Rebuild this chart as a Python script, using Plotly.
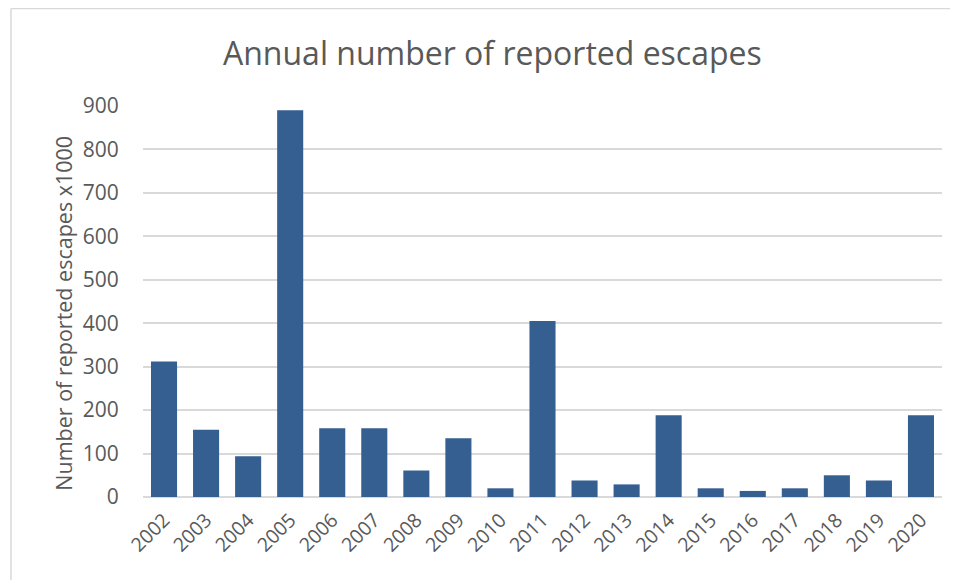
import plotly.graph_objects as go

years = [str(y) for y in range(2002, 2021)]
escapes = [312, 155, 94, 890, 158, 158, 61, 135, 20, 405, 38, 29, 188, 20, 14, 20, 50, 38, 188]
y_ticks = [0, 100, 200, 300, 400, 500, 600, 700, 800, 900]

title_text = "Annual number of reported escapes"
y_title = "Number of reported escapes x1000"

TXT = "#595959"
FONT = "Open Sans"

# the page adds an 8px body margin, so figure coords = page coords - 8
OFF = 8
W, H = 958 - OFF, 580 - OFF
L, R, T, B = 143 - OFF, 942 - OFF, 106 - OFF, 497.5 - OFF

def px(x):
    return (x - OFF - L) / (R - L)

def py(y):
    return (B - (y - OFF)) / (B - T)

fig = go.Figure(go.Bar(x=years, y=escapes, marker=dict(color="#355E91", line=dict(width=0))))

fig.update_layout(
    width=W, height=H,
    margin=dict(l=L, r=W - R, t=T, b=H - B, pad=0),
    paper_bgcolor="white", plot_bgcolor="white",
    bargap=0.38,
    showlegend=False,
    font=dict(family=FONT, color=TXT),
    xaxis=dict(
        type="category", tickangle=-45, tickfont=dict(size=19.5, color=TXT),
        showgrid=False, showline=False, ticks="outside", ticklen=3, tickcolor="rgba(0,0,0,0)",
    ),
    yaxis=dict(
        range=[0, 900], tickvals=y_ticks, tickfont=dict(size=21, color=TXT),
        showgrid=True, gridcolor="#D9D9D9", gridwidth=1.6, zeroline=True, zerolinecolor="#D9D9D9",
        zerolinewidth=1.6, ticks="outside", ticklen=19, tickcolor="rgba(0,0,0,0)",
    ),
    annotations=[
        dict(text=title_text, x=px(492), y=py(52), xref="paper", yref="paper",
             showarrow=False, xanchor="center", yanchor="middle",
             font=dict(size=32, color=TXT, family=FONT)),
        dict(text=y_title, x=px(64), y=py(314), xref="paper", yref="paper",
             showarrow=False, xanchor="center", yanchor="middle", textangle=-90,
             font=dict(size=21.5, color=TXT, family=FONT)),
    ],
    shapes=[
        dict(type="line", xref="paper", yref="paper", x0=px(11), x1=px(960), y0=py(8.5), y1=py(8.5),
             line=dict(color="#D9D9D9", width=1.5)),
        dict(type="line", xref="paper", yref="paper", x0=px(11), x1=px(11), y0=py(8.5), y1=py(585),
             line=dict(color="#D9D9D9", width=1.5)),
    ],
)

fig.write_html("out.html")
